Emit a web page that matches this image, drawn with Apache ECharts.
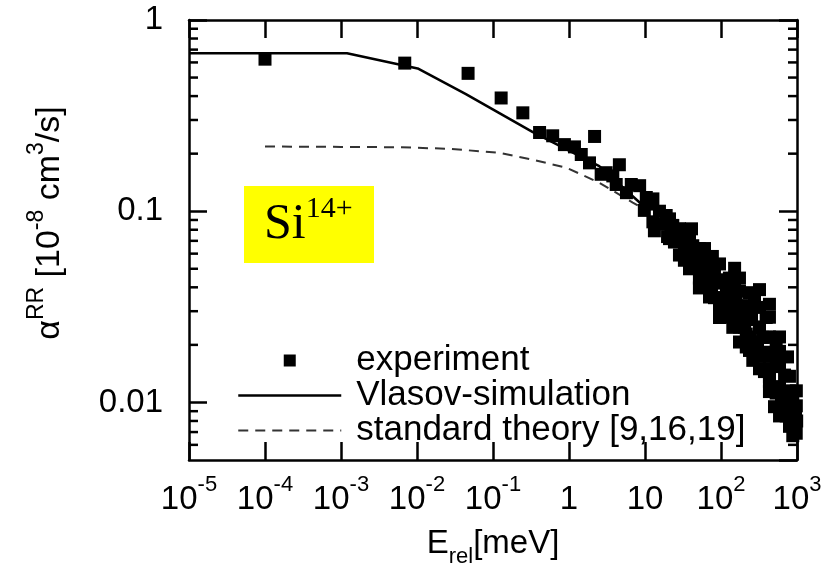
<!DOCTYPE html>
<html>
<head>
<meta charset="utf-8">
<script src="https://cdn.jsdelivr.net/npm/echarts@6/dist/echarts.min.js"></script>
<style>
  html, body { margin: 0; padding: 0; background: #fff; }
  #chart { width: 840px; height: 573px; }
</style>
</head>
<body>
<div id="chart"></div>
<script>
// axis ranges (log scales)
const xMin = 1e-5
const xMax = 1e3
const yMin = 0.005
const yMax = 1
const yMinorTicks = [0.006, 0.007, 0.008, 0.009,
  0.02, 0.03, 0.04, 0.05, 0.06, 0.07, 0.08, 0.09,
  0.2, 0.3, 0.4, 0.5, 0.6, 0.7, 0.8, 0.9]

// experiment: E_rel [meV], rate [1e-8 cm^3/s]
const expE = [1e-4, 0.0069, 0.047, 0.128, 0.247, 0.41, 0.61, 0.87, 1.18, 2.17,
  1.45, 1.86, 2.65, 4.6, 3.77, 3.08, 4.18, 6.6, 8.5, 5.7,
  10.4, 12.7, 9.8, 12.7, 19, 13.3, 22, 24.4, 42.5, 28.4,
  38.5, 57.7, 95.5, 63.8, 52, 106, 175, 321, 95.5, 434,
  95.5, 143, 215, 262, 393, 532, 589, 532, 721, 796,
  880, 977, 158, 215, 237, 393, 532, 650, 880, 63.8,
  15.5, 34, 77, 129, 321, 796, 434, 352, 955, 23.2,
  11.5, 15.5, 19.8, 33, 47.6, 70.6, 75, 118, 129, 186,
  165, 252, 204, 302, 373, 434, 321, 686, 750, 625,
  847, 990, 506, 434, 60.7, 40.9, 82, 276, 151,
  21, 21, 28.4, 38.5, 38.5, 52, 52, 52, 70.6, 70.6,
  70.6, 95.5, 95.5, 129, 129, 175, 175, 175, 175, 237,
  237, 237, 321, 321, 321, 434, 434, 434, 434, 589,
  589, 589, 589, 796, 796, 980, 980,
  60.7, 111, 151, 223, 276, 373, 33, 24.4, 82, 686]
const expRate = [0.624, 0.595, 0.526, 0.391, 0.327, 0.258, 0.248, 0.223, 0.217, 0.246,
  0.198, 0.179, 0.156, 0.175, 0.153, 0.159, 0.138, 0.138, 0.136, 0.125,
  0.118, 0.116, 0.101, 0.088, 0.095, 0.079, 0.083, 0.069, 0.066, 0.059,
  0.050, 0.0545, 0.053, 0.0465, 0.0397, 0.0438, 0.0382, 0.0389, 0.0339, 0.0326,
  0.0278, 0.0247, 0.0195, 0.0166, 0.0219, 0.016, 0.0121, 0.0112, 0.0085, 0.0075,
  0.0099, 0.0069, 0.0367, 0.0228, 0.0187, 0.0278, 0.0202, 0.0095, 0.0067, 0.043,
  0.100, 0.072, 0.058, 0.0353, 0.0247, 0.0114, 0.0136, 0.0219, 0.0085, 0.0843,
  0.109, 0.0859, 0.0737, 0.0638, 0.0554, 0.0492, 0.0388, 0.0397, 0.0306, 0.0321,
  0.0278, 0.0284, 0.0247, 0.0207, 0.0183, 0.0150, 0.0150, 0.0139, 0.0173, 0.0107,
  0.0095, 0.0080, 0.0095, 0.0114, 0.0638, 0.0809, 0.0353, 0.0353, 0.0503,
  0.0912, 0.0719, 0.081, 0.0719, 0.0567, 0.0638, 0.0504, 0.0447, 0.0567, 0.0421,
  0.0356, 0.0421, 0.0314, 0.0447, 0.0279, 0.0447, 0.0314, 0.0248, 0.0207, 0.0375,
  0.0314, 0.0220, 0.0314, 0.0248, 0.0174, 0.0279, 0.0220, 0.0174, 0.0129, 0.0220,
  0.0185, 0.0154, 0.0085, 0.0137, 0.0115, 0.0115, 0.0096,
  0.0534, 0.0353, 0.0397, 0.0271, 0.0196, 0.0145, 0.0554, 0.0791, 0.0474, 0.0114]

// Vlasov simulation
const vlasovE = [1e-5, 1.2e-3, 0.0102, 0.044, 0.33, 2.5, 8.5, 10]
const vlasovRate = [0.67, 0.67, 0.558, 0.41, 0.26, 0.172, 0.111, 0.105]

// standard theory [9,16,19]
const theoryE = [1e-4, 1e-3, 0.006, 0.027, 0.12, 0.33, 0.92, 2.5, 6.9, 10]
const theoryRate = [0.218, 0.217, 0.216, 0.212, 0.202, 0.186, 0.169, 0.141, 0.111, 0.102]

const zip = (a, b) => a.map((v, i) => [v, b[i]])

const chart = echarts.init(document.getElementById('chart'))

const fontFam = '"Liberation Sans", Arial, Helvetica, sans-serif'
const supRich = {
  b: { fontSize: 33, fontFamily: fontFam, color: '#000', lineHeight: 42, verticalAlign: 'bottom' },
  s: { fontSize: 22, fontFamily: fontFam, color: '#000', verticalAlign: 'top' },
  sub: { fontSize: 22, fontFamily: fontFam, color: '#000', verticalAlign: 'bottom', padding: [0, 0, -8, 0] }
}
const nameRich = {
  b: { fontSize: 34, fontFamily: fontFam, color: '#000', lineHeight: 42, verticalAlign: 'bottom' },
  s: { fontSize: 23, fontFamily: fontFam, color: '#000', verticalAlign: 'top' }
}

const xLabel = (v) => {
  const n = Math.round(Math.log10(v))
  if (n === 0) return '{b|1}'
  if (n === 1) return '{b|10}'
  return '{b|10}{s|' + n + '}'
}

const axisLine = { lineStyle: { color: '#000', width: 2.5 } }
const majorTick = { inside: true, length: 18, lineStyle: { color: '#000', width: 2.5 } }

const option = {
  animation: false,
  backgroundColor: '#fff',
  grid: { left: 189, right: 43, top: 20, bottom: 108 },
  legend: {
    data: [
      { name: 'experiment', icon: 'path://M0,0L1,0L1,1L0,1Z', itemStyle: { color: '#000', opacity: 1 } },
      { name: 'Vlasov-simulation', itemStyle: { opacity: 0 }, lineStyle: { color: '#000', width: 2.5 } },
      { name: 'standard theory [9,16,19]', itemStyle: { opacity: 0 }, lineStyle: { color: '#333', width: 2, type: [10, 7] } }
    ],
    orient: 'vertical',
    left: 232,
    top: 338,
    itemWidth: 103,
    itemHeight: 12,
    itemGap: 0,
    textStyle: {
      fontSize: 35, fontFamily: fontFam, color: '#000',
      padding: [0, 0, 0, 10]
    }
  },
  xAxis: [
    {
      type: 'log', logBase: 10, min: xMin, max: xMax,
      position: 'bottom',
      axisLine: axisLine,
      axisTick: majorTick,
      splitLine: { show: false },
      axisLabel: { margin: 14, formatter: xLabel, rich: supRich },
      name: '{b|E}{sub|rel}{b|[meV]}',
      nameLocation: 'middle',
      nameGap: 58,
      nameTextStyle: { rich: supRich }
    },
    {
      type: 'log', logBase: 10, min: xMin, max: xMax,
      position: 'top',
      axisLine: axisLine,
      axisTick: majorTick,
      splitLine: { show: false },
      axisLabel: { show: false }
    }
  ],
  yAxis: [
    {
      type: 'log', logBase: 10, min: yMin, max: yMax,
      position: 'left',
      axisLine: axisLine,
      axisTick: majorTick,
      splitLine: { show: false },
      axisLabel: {
        margin: 26, showMinLabel: false,
        fontSize: 33, fontFamily: fontFam, color: '#000',
        formatter: (v) => String(Number(v.toPrecision(1)))
      },
      name: '{b|α}{s|RR}{b| [10}{s|-8}{b| cm}{s|3}{b|/s]}',
      nameLocation: 'middle',
      nameGap: 122,
      nameRotate: 90,
      nameTextStyle: { rich: nameRich, padding: [0, 0, 0, 34] }
    },
    {
      type: 'log', logBase: 10, min: yMin, max: yMax,
      position: 'right',
      axisLine: axisLine,
      axisTick: majorTick,
      splitLine: { show: false },
      axisLabel: { show: false }
    }
  ],
  series: [
    {
      name: 'standard theory [9,16,19]',
      type: 'line',
      symbol: 'none',
      itemStyle: { color: '#333' },
      lineStyle: { color: '#333', width: 2, type: [10, 7] },
      data: zip(theoryE, theoryRate),
      z: 2
    },
    {
      name: 'Vlasov-simulation',
      type: 'line',
      symbol: 'none',
      itemStyle: { color: '#000' },
      lineStyle: { color: '#000', width: 2.5 },
      data: zip(vlasovE, vlasovRate),
      z: 3
    },
    {
      name: 'experiment',
      type: 'scatter',
      symbol: 'rect',
      symbolSize: 13,
      itemStyle: { color: '#000', opacity: 1 },
      data: zip(expE, expRate),
      z: 4
    },
    {
      // minor ticks of the log y axes, placed through the axis scale
      name: 'minorTicks',
      type: 'custom',
      silent: true,
      clip: false,
      data: yMinorTicks.map((v) => [xMin, v]),
      renderItem: (params, api) => {
        const l = api.coord([xMin, api.value(1)])
        const r = api.coord([xMax, api.value(1)])
        const st = { stroke: '#000', lineWidth: 2.5 }
        return {
          type: 'group',
          children: [
            { type: 'line', shape: { x1: l[0], y1: l[1], x2: l[0] + 9, y2: l[1] }, style: st },
            { type: 'line', shape: { x1: r[0] - 9, y1: r[1], x2: r[0], y2: r[1] }, style: st }
          ]
        }
      },
      z: 5
    }
  ],
  graphic: [
    {
      type: 'rect',
      shape: { x: 244, y: 186, width: 130, height: 77 },
      style: { fill: '#ffff00' },
      z: 1
    },
    {
      type: 'text',
      x: 264,
      y: 194,
      style: {
        text: '{a|Si}{s|14+}',
        rich: {
          a: { fontSize: 50, fontFamily: '"Liberation Serif", "Times New Roman", serif', color: '#000', lineHeight: 56, verticalAlign: 'bottom' },
          s: { fontSize: 30, fontFamily: '"Liberation Serif", "Times New Roman", serif', color: '#000', verticalAlign: 'top' }
        }
      },
      z: 2
    }
  ]
}

chart.setOption(option)
</script>
</body>
</html>
